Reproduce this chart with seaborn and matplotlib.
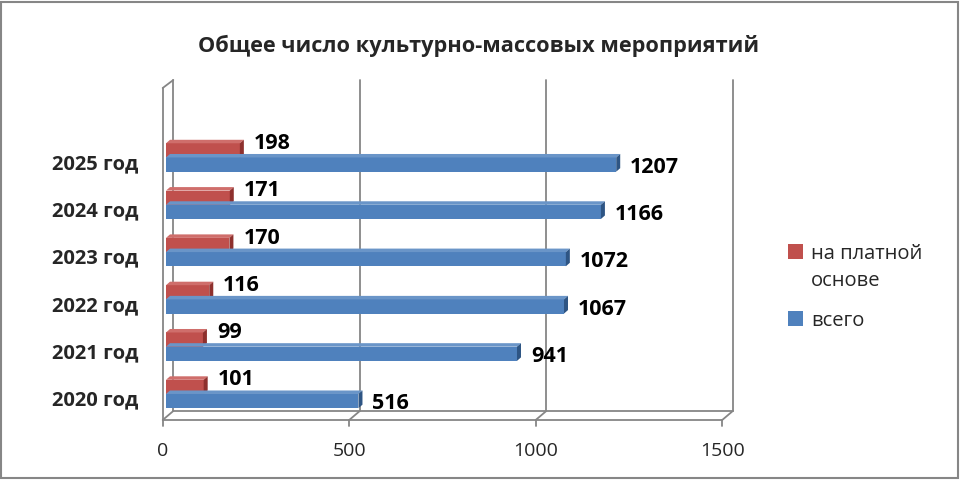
import pandas as pd
import matplotlib.pyplot as plt
import seaborn as sns
from matplotlib.patches import Polygon, Rectangle
from matplotlib.transforms import ScaledTranslation

# chart data
years = ['2020 год', '2021 год', '2022 год', '2023 год', '2024 год', '2025 год']
total = [516, 941, 1067, 1072, 1166, 1207]
paid = [101, 99, 116, 170, 171, 198]
series = ['на платной основе', 'всего']
colors = {'на платной основе': '#C0504D', 'всего': '#4F81BD'}
side_colors = {'на платной основе': '#8E302D', 'всего': '#2E5584'}
top_colors = {'на платной основе': '#CF6E6B', 'всего': '#6A95C8'}

df = pd.DataFrame({
    'year': years * 2,
    'value': paid + total,
    'series': [series[0]] * len(years) + [series[1]] * len(years),
})

sns.set_theme(style='white')
plt.rcParams['font.family'] = ['Open Sans', 'DejaVu Sans']

fig = plt.figure(figsize=(9.6, 4.8), dpi=100)
ax = fig.add_axes([166 / 960, 1 - 420 / 480, 559.5 / 960, 340 / 480])

order = years[::-1]  # 2025 on top
sns.barplot(data=df, y='year', x='value', hue='series', order=order,
            hue_order=series, palette=colors, orient='h', width=0.6,
            saturation=1, ax=ax, edgecolor='none', linewidth=0)

ax.set_xlim(0, 1500)
ax.set_ylim(5.55, -1.638)
ax.set_xlabel('')
ax.set_ylabel('')
for s in ax.spines.values():
    s.set_visible(False)

# pixel -> data helpers for the 3D frame
ux = 1500 / 559.5   # data units per px (x)
uy = 7.188 / 340    # data units per px (y)
grey = '#868686'
fx, bx = -3.3 * ux, 7.3 * ux        # front / back x offset
fy, by = 5.55, 5.55 - 9 * uy        # front / back floor y
top = -1.638
kw = dict(color=grey, lw=1.3, clip_on=False, zorder=0.5)
# floor
ax.plot([fx, 1500 + fx], [fy, fy], **kw)
ax.plot([bx, 1500 + bx], [by, by], **kw)
for t in [0, 500, 1000, 1500]:
    ax.plot([t + fx, t + bx], [fy, by], **kw)
    ax.plot([t + fx, t + fx], [fy, fy + 6 * uy], **kw)
    ax.plot([t + bx, t + bx], [by, top], **kw)
# left wall
ax.plot([fx, fx], [fy, top + 8 * uy], **kw)
ax.plot([fx, bx], [top + 8 * uy, top], **kw)

# fake 3D faces on bars
dx, dy = 4 * ux, 3.5 * uy
for bar, name in zip(ax.patches, [s for s in series for _ in years]):
    x0, y0 = bar.get_x(), bar.get_y()
    w, h = bar.get_width(), bar.get_height()
    topface = Polygon([(x0, y0), (x0 + dx, y0 - dy), (x0 + w + dx, y0 - dy), (x0 + w, y0)],
                      closed=True, facecolor=top_colors[name], edgecolor='none', zorder=bar.get_zorder())
    side = Polygon([(x0 + w, y0), (x0 + w + dx, y0 - dy), (x0 + w + dx, y0 + h - dy), (x0 + w, y0 + h)],
                   closed=True, facecolor=side_colors[name], edgecolor='none', zorder=bar.get_zorder())
    ax.add_patch(topface)
    ax.add_patch(side)

# value labels
for i, yr in enumerate(order):
    k = years.index(yr)
    ax.annotate(str(paid[k]), (paid[k], i - 0.15), xytext=(10, 5), textcoords='offset points',
                ha='left', va='center', fontsize=15.5, fontweight='bold', color='black')
    ax.annotate(str(total[k]), (total[k], i + 0.15), xytext=(10, -2), textcoords='offset points',
                ha='left', va='center', fontsize=15.5, fontweight='bold', color='black')

# ticks
ax.set_xticks([0, 500, 1000, 1500])
ax.tick_params(axis='x', length=0, pad=16, labelsize=14)
ax.tick_params(axis='y', length=0, pad=20, labelsize=14.5)
for lab in ax.get_yticklabels():
    lab.set_fontweight('bold')
    lab.set_transform(lab.get_transform() + ScaledTranslation(0, -4 / 100, fig.dpi_scale_trans))
for lab in ax.get_xticklabels():
    lab.set_transform(lab.get_transform() + ScaledTranslation(-3.3 / 100, 0, fig.dpi_scale_trans))

# legend
handles, labels = ax.get_legend_handles_labels()
ax.get_legend().remove()
leg = fig.legend(handles, ['на платной\nоснове', 'всего'], loc='upper left',
                 bbox_to_anchor=(770 / 960, 1 - 226 / 480), frameon=False, fontsize=14.5,
                 handlelength=0.75, handleheight=0.75, handletextpad=0.4, labelspacing=1.0)
for t in leg.get_texts():
    t.set_linespacing(1.45)
# square next to the first line of a wrapped label, like Excel
for col in leg._legend_handle_box.get_children():
    for row in col.get_children():
        row.align = 'top'

fig.text(479 / 960, 1 - 46 / 480, 'Общее число культурно-массовых мероприятий',
         ha='center', va='center', fontsize=15.7, fontweight='bold')

# outer border
fig.patches.append(Rectangle((1 / 960, 2 / 480), 957 / 960, 476 / 480, transform=fig.transFigure,
                             fill=False, edgecolor='#868686', lw=1.5))

fig.savefig('out.png', dpi=100)
